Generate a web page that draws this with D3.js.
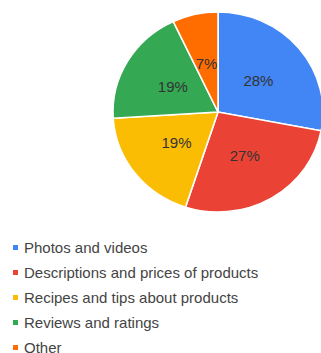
<!DOCTYPE html>
<html>
<head>
<meta charset="utf-8">
<script src="https://cdn.jsdelivr.net/npm/d3@7"></script>
<style>
  html, body { margin: 0; padding: 0; background: #fff; }
  svg { display: block; }
</style>
</head>
<body>
<svg id="chart" width="321" height="353"></svg>
<script>
const categories = [
  "Photos and videos",
  "Descriptions and prices of products",
  "Recipes and tips about products",
  "Reviews and ratings",
  "Other"
];
const shares = [28, 27, 19, 19, 7];
const colors = ["#4285F4", "#EA4335", "#FBBC04", "#34A853", "#FF6D01"];

const data = categories.map((c, i) => ({ name: c, value: shares[i], color: colors[i] }));

const svg = d3.select("#chart");
// Pie is drawn slightly wider than tall
const cx = 218, cy = 112, radius = 100, stretchX = 1.05;

const pie = d3.pie().value(d => d.value).sort(null);
const arc = d3.arc().innerRadius(0).outerRadius(radius);
const labelArc = d3.arc().innerRadius(radius * 0.5).outerRadius(radius * 0.5);

const arcs = pie(data);

svg.append("g")
  .attr("transform", `translate(${cx},${cy}) scale(${stretchX},1)`)
  .selectAll("path")
  .data(arcs)
  .join("path")
  .attr("d", arc)
  .attr("fill", d => d.data.color)
  .attr("stroke", "#fff")
  .attr("stroke-width", 1.5);

svg.append("g")
  .attr("transform", `translate(${cx},${cy})`)
  .selectAll("text")
  .data(arcs)
  .join("text")
  .attr("transform", d => {
    const [x, y] = labelArc.centroid(d);
    return `translate(${x * stretchX},${y})`;
  })
  .attr("text-anchor", "middle")
  .attr("dominant-baseline", "central")
  .attr("font-family", "Arial, 'Liberation Sans', sans-serif")
  .attr("font-size", 15)
  .attr("fill", "#333")
  .text(d => `${d.data.value}%`);

// Legend below the pie
const legendY = d3.scalePoint().domain(categories).range([247, 347]);
const legend = svg.append("g")
  .selectAll("g")
  .data(data)
  .join("g")
  .attr("transform", d => `translate(0,${legendY(d.name)})`);

legend.append("rect")
  .attr("x", 13).attr("y", -2).attr("width", 5).attr("height", 5)
  .attr("fill", d => d.color);

legend.append("text")
  .attr("x", 24)
  .attr("y", 0)
  .attr("dominant-baseline", "central")
  .attr("font-family", "Arial, 'Liberation Sans', sans-serif")
  .attr("font-size", 15)
  .attr("fill", "#444")
  .text(d => d.name);
</script>
</body>
</html>
